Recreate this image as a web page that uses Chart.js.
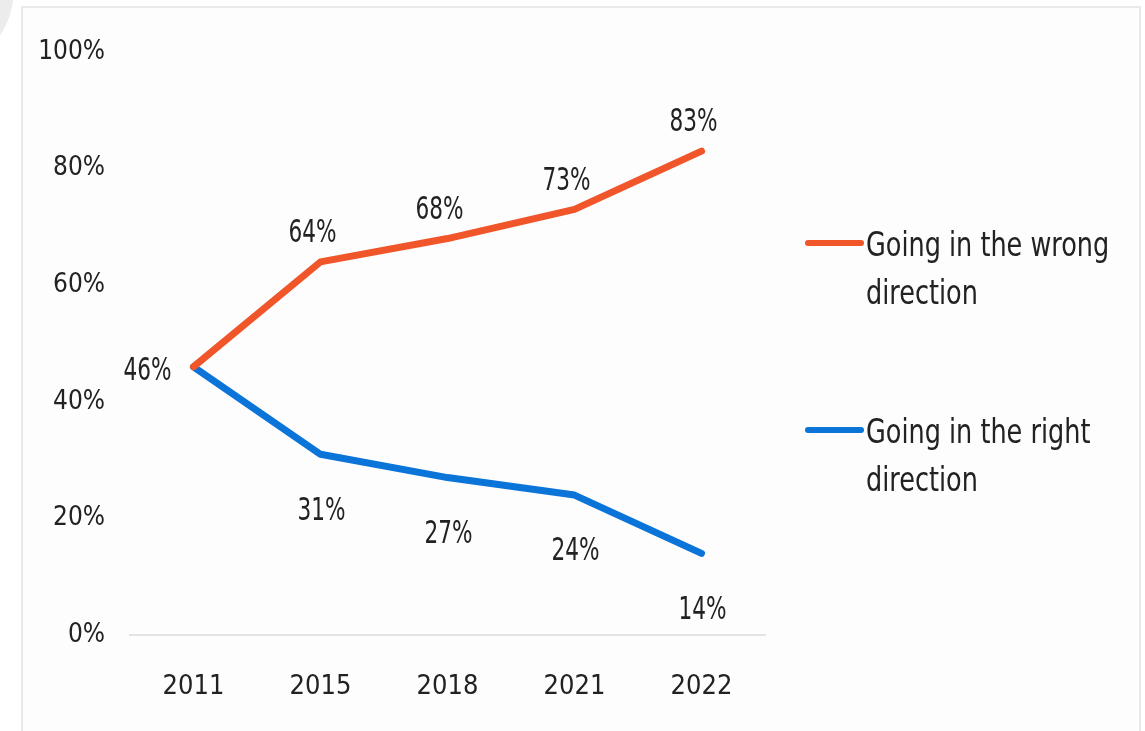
<!DOCTYPE html>
<html>
<head>
<meta charset="utf-8">
<script src="https://cdn.jsdelivr.net/npm/chart.js@4.4.1/dist/chart.umd.min.js"></script>
<style>
  html,body{margin:0;padding:0;background:#fff;overflow:hidden}
  #wrap{position:relative;width:1145px;height:731px}
  .corner{position:absolute;left:-30px;top:-20px;width:44px;height:70px;background:#ececec;border-radius:0 0 90% 0}
  .frame{position:absolute;left:21px;top:6px;width:1120px;height:740px;border:2px solid #e9e9e9;background:#fdfdfd;box-sizing:border-box}
  canvas{position:absolute;left:0;top:0}
</style>
</head>
<body>
<div id="wrap">
  <div class="corner"></div>
  <div class="frame"></div>
  <canvas id="chart" width="1145" height="731"></canvas>
</div>
<script>
/* ===== Dados ===== */
const years      = ['2011','2015','2018','2021','2022'];
const wrongDir   = [46, 64, 68, 73, 83];
const rightDir   = [46, 31, 27, 24, 14];
const wrongLabel = ['Going in the wrong', 'direction'];
const rightLabel = ['Going in the right', 'direction'];

/* ===== Estilo ===== */
const FONT   = "'DejaVu Sans Condensed', 'Liberation Sans Narrow', Roboto, sans-serif";
const ORANGE = '#f0562a';
const BLUE   = '#0b74d8';
const INK    = '#222';

// texto estreito (a fonte original é alta e condensada)
function narrowText(ctx, txt, x, y, sx){
  ctx.save();
  ctx.translate(x, y);
  ctx.scale(sx, 1);
  ctx.fillText(txt, 0, 0);
  ctx.restore();
}

// rótulos de valor: acima da linha laranja, abaixo da azul; o 46% comum fica à esquerda
const valueLabels = {
  id:'valueLabels',
  afterDatasetsDraw(chart){
    const ctx = chart.ctx;
    ctx.save();
    ctx.font = `32px ${FONT}`;
    ctx.fillStyle = INK;
    ctx.textAlign = 'center';
    ctx.textBaseline = 'middle';
    chart.data.datasets.forEach((ds,i)=>{
      const meta = chart.getDatasetMeta(i);
      meta.data.forEach((pt,j)=>{
        const txt = ds.data[j] + '%';
        if (j===0){
          if (i===1) narrowText(ctx, txt, pt.x-46, pt.y+5, 0.75);
          return;
        }
        if (i===0) narrowText(ctx, txt, pt.x-8, pt.y-28, 0.75);
        else       narrowText(ctx, txt, pt.x+1, pt.y+57, 0.75);
      });
    });
    ctx.restore();
  }
};

// legenda à direita, com texto em duas linhas
const sideLegend = {
  id:'sideLegend',
  afterDraw(chart){
    const ctx = chart.ctx;
    const items = [
      {color:ORANGE, lines:wrongLabel, y:243},
      {color:BLUE,   lines:rightLabel, y:430}
    ];
    ctx.save();
    ctx.font = `33px ${FONT}`;
    ctx.fillStyle = INK;
    ctx.textAlign = 'left';
    ctx.textBaseline = 'middle';
    ctx.lineCap = 'round';
    items.forEach(it=>{
      ctx.strokeStyle = it.color;
      ctx.lineWidth = 6;
      ctx.beginPath();
      ctx.moveTo(808, it.y);
      ctx.lineTo(861, it.y);
      ctx.stroke();
      it.lines.forEach((l,k)=> narrowText(ctx, l, 866, it.y + 4 + k*48, 0.86));
    });
    ctx.restore();
  }
};

const mkSet = (label, data, color)=>({
  label, data,
  borderColor:color, backgroundColor:color,
  borderWidth:7, pointRadius:0, tension:0,
  borderCapStyle:'round', borderJoinStyle:'round'
});

new Chart(document.getElementById('chart').getContext('2d'), {
  type:'line',
  data:{
    labels:years,
    datasets:[
      mkSet(wrongLabel.join(' '), wrongDir, ORANGE),
      mkSet(rightLabel.join(' '), rightDir, BLUE)
    ]
  },
  options:{
    responsive:false,
    animation:false,
    layout:{ padding:{ top:52, right:380, left:0, bottom:0 } },
    plugins:{ legend:{display:false}, tooltip:{enabled:false} },
    scales:{
      x:{
        offset:true,
        grid:{ display:false, drawTicks:false },
        border:{ display:true, color:'#e4e4e4', width:2 },
        ticks:{ color:INK, padding:36, font:{ family:FONT, size:27 } },
        afterFit:(s)=>{ s.height = 96; }
      },
      y:{
        min:0, max:100,
        grid:{ display:false, drawTicks:false },
        border:{ display:false },
        ticks:{ stepSize:20, color:INK, padding:25, font:{ family:FONT, size:26 },
                callback:(v)=> v + '%' },
        afterFit:(s)=>{ s.width = 130; }
      }
    }
  },
  plugins:[valueLabels, sideLegend]
});
</script>
</body>
</html>
